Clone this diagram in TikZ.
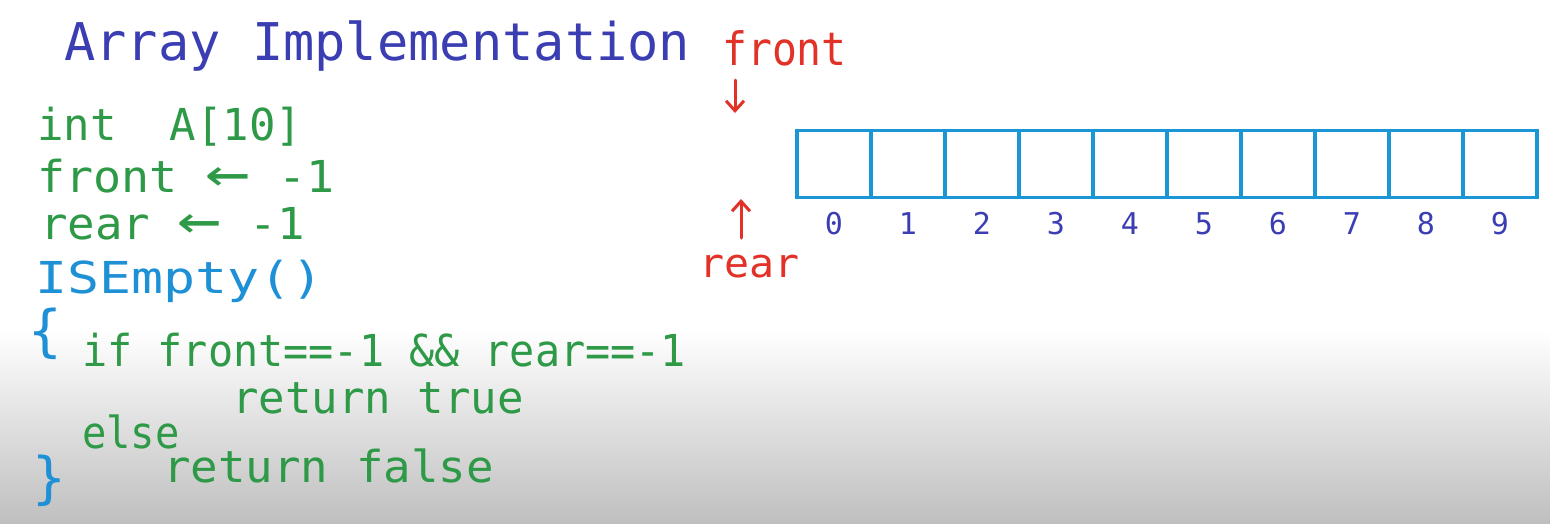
\documentclass[tikz,border=0pt]{standalone}
\usepackage{fontspec}
\setmonofont{DejaVu Sans Mono}
\usetikzlibrary{arrows.meta}
\definecolor{ttl}{RGB}{58,62,178}
\definecolor{redc}{RGB}{226,50,40}
\definecolor{grn}{RGB}{46,154,72}
\definecolor{lblue}{RGB}{30,144,214}
\definecolor{arrc}{RGB}{26,150,213}
\definecolor{bggray}{RGB}{191,191,191}
\newcommand{\bigla}{\scalebox{1.6}[1.3]{←}}
\begin{document}
\begin{tikzpicture}[x=1pt,y=-1pt,
  txt/.style={inner sep=0pt, anchor=base west},
  code/.style={txt, text=grn, font=\ttfamily\fontsize{44}{50}\selectfont},
  title/.style={txt, text=ttl, font=\ttfamily\fontsize{52}{58}\selectfont},
  redlbl/.style={txt, text=redc},
  brace/.style={txt, text=lblue, font=\ttfamily\fontsize{56}{60}\selectfont},
  cell/.style={draw=arrc, line width=3.2pt, minimum width=74pt, minimum height=67pt, inner sep=0pt},
  idx/.style={inner sep=0pt, anchor=base, text=ttl, font=\ttfamily\fontsize{30}{34}\selectfont},
  redarrow/.style={draw=redc, line width=3pt, line cap=round, -{Straight Barb[length=10pt,width=18pt,line width=3pt]}}
]
\useasboundingbox (0,0) rectangle (1550,523);
\fill[white] (0,0) rectangle (1550,523);
\shade[top color=white, bottom color=bggray] (0,330) rectangle (1550,523);

% title
\node[title] (title) at (64,60) {Array Implementation};

% code
\node[code] (l1) at (37,140) {int~~A[10]};
\node[code] (l2) at (37,192) {\scalebox{1.06}[1]{front~\bigla~-1}};
\node[code] (l3) at (40,239) {\scalebox{1.04}[1]{rear~\bigla~-1}};
\node[code, text=lblue] (l4) at (35,293) {\scalebox{1.21}[1]{ISEmpty()}};
\node[brace] (ob) at (28,350) {\{};
\node[code] (l5) at (82,366) {\scalebox{0.95}[1]{if front==-1 \&\& rear==-1}};
\node[code] (l6) at (232,413) {return true};
\node[code] (l7) at (82,448) {\scalebox{0.92}[1]{else}};
\node[code] (l8) at (163,482) {\scalebox{1.04}[1]{return false}};
\node[brace] (cb) at (32,497) {\}};

% array
\foreach \i in {0,...,9} {
  \node[cell] (c\i) at ({834+74*\i},164) {};
  \node[idx] (n\i) at ({834+74*\i},234) {\i};
}

% front / rear labels and arrows
\node[redlbl, font=\ttfamily\fontsize{46}{50}\selectfont] (front) at (722,65) {\scalebox{0.9}[1]{front}};
\node[redlbl, font=\ttfamily\fontsize{40}{44}\selectfont] (rear) at (699,277) {\scalebox{1.04}[1]{rear}};
\coordinate (fa1) at (735,80);
\coordinate (fa2) at (735,113);
\coordinate (ra1) at (741,238);
\coordinate (ra2) at (741,199);
\draw[redarrow] (fa1) -- (fa2);
\draw[redarrow] (ra1) -- (ra2);
\end{tikzpicture}
\end{document}
